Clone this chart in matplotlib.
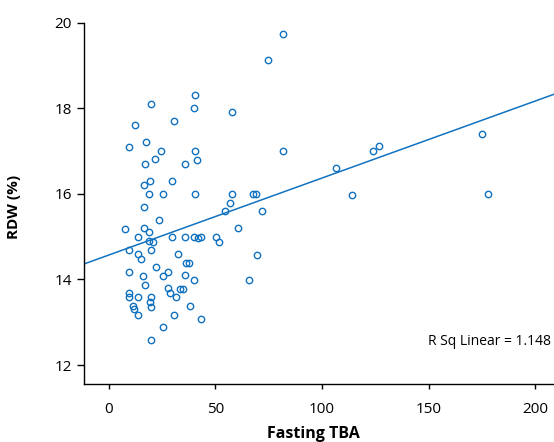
import matplotlib.pyplot as plt

plt.rcParams['font.family'] = ['Open Sans', 'DejaVu Sans']

# Fasting TBA vs RDW (%)
tba = [40.5, 19.7, 39.8, 57.7, 12.5, 30.8, 17.6, 9.5, 24.7, 40.6,
       21.7, 16.9, 35.6, 41.5, 19.5, 16.7, 29.5, 18.8, 25.6, 40.6,
       57.7, 67.6, 69.1, 56.7, 54.5, 16.7, 23.7, 7.8, 16.5, 60.8,
       71.9, 18.8, 13.7, 18.9, 20.9, 29.7, 35.6, 39.8, 41.9, 43.3,
       50.2, 51.9, 9.7, 19.7, 13.6, 15.0, 32.5, 69.5, 36.4, 37.5,
       9.5, 22.0, 27.8, 25.6, 15.9, 35.6, 40.0, 65.8, 16.9, 27.7,
       28.6, 33.6, 34.8, 31.7, 9.5, 9.7, 13.7, 19.7, 19.5, 19.8,
       11.4, 11.7, 13.7, 38.1, 30.8, 43.4, 25.3, 19.8, 81.6, 74.7,
       81.7, 106.6, 123.8, 126.7, 174.9, 177.7, 113.9]
rdw = [18.30, 18.11, 18.01, 17.92, 17.61, 17.71, 17.21, 17.10, 17.01, 17.00,
       16.81, 16.70, 16.71, 16.79, 16.31, 16.20, 16.30, 16.00, 16.00, 16.00,
       16.00, 16.00, 15.99, 15.78, 15.60, 15.69, 15.38, 15.19, 15.20, 15.20,
       15.60, 15.10, 15.00, 14.90, 14.88, 15.00, 15.00, 15.00, 14.97, 15.00,
       15.00, 14.88, 14.70, 14.69, 14.60, 14.48, 14.59, 14.58, 14.38, 14.38,
       14.18, 14.29, 14.18, 14.08, 14.08, 14.10, 13.99, 13.98, 13.88, 13.80,
       13.68, 13.78, 13.78, 13.59, 13.69, 13.58, 13.58, 13.58, 13.48, 13.36,
       13.39, 13.30, 13.18, 13.38, 13.17, 13.07, 12.88, 12.58, 19.73, 19.12,
       17.00, 16.60, 17.01, 17.11, 17.40, 16.00, 15.98]

# linear fit line as drawn
fit_intercept = 14.57
fit_slope = 0.018
r_sq_text = 'R Sq Linear = 1.148'

xticks = [0, 50, 100, 150, 200]
yticks = [12, 14, 16, 18, 20]

blue = '#1172c0'

fig = plt.figure(figsize=(5.54, 4.42), dpi=100)
ax = fig.add_axes([0.1522, 0.1305, 0.8478, 0.8181])

ax.plot(tba, rdw, 'o', ls='none', ms=4.6, mfc='none', mec=blue, mew=1.0)
ax.axline((0, fit_intercept), slope=fit_slope, color=blue, lw=1.1)

ax.text(149.7, 12.55, r_sq_text, fontsize=10, va='center', ha='left')

ax.set_xlim(-11.4, 208.8)
ax.set_ylim(11.55, 20)
ax.set_xticks(xticks)
ax.set_yticks(yticks)

for s in ['top', 'right']:
    ax.spines[s].set_visible(False)
for s in ['left', 'bottom']:
    ax.spines[s].set_linewidth(1.0)

ax.tick_params(axis='x', length=3.5, width=1.0, pad=9, labelsize=11)
ax.tick_params(axis='y', length=5, width=1.0, pad=4, labelsize=11)

ax.set_xlabel('Fasting TBA', fontsize=11.5, fontweight='bold')
ax.set_ylabel('RDW (%)', fontsize=11, fontweight='bold')
ax.xaxis.set_label_coords(0.487, -0.114)
ax.yaxis.set_label_coords(-0.135, 0.49)

fig.savefig('out.png', dpi=100)
